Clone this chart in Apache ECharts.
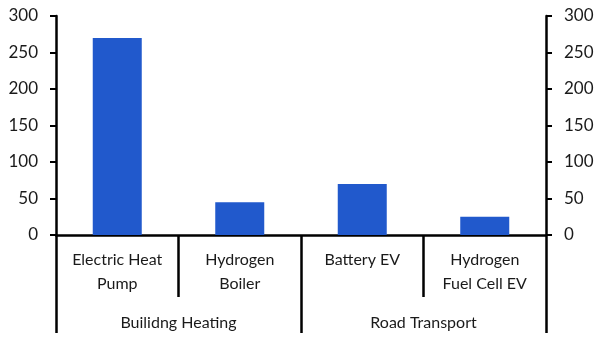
<!DOCTYPE html>
<html>
<head>
<meta charset="utf-8">
<script src="https://cdn.jsdelivr.net/npm/echarts@6/dist/echarts.min.js"></script>
<style>html,body{margin:0;padding:0;background:#fff}#c{width:605px;height:348px}</style>
</head>
<body>
<div id="c"></div>
<script>
const categories = ["Electric Heat\nPump", "Hydrogen\nBoiler", "Battery EV", "Hydrogen\nFuel Cell EV"];
const groups = ["Builidng Heating", "Road Transport"];
const values = [270, 45, 70, 25];
const yTicks = [0, 50, 100, 150, 200, 250, 300];

const FONT = "Lato";
const TXT = "#1a1a1a";
const LINE = "#000";
const chart = echarts.init(document.getElementById('c'), null, {renderer: 'canvas'});

const yAxisBase = (pos) => ({
  type: 'value', position: pos, min: yTicks[0], max: yTicks[yTicks.length - 1], interval: 50,
  axisLine: {show: true, lineStyle: {color: LINE, width: 2.5}},
  axisTick: {show: true, inside: false, length: 6, lineStyle: {color: LINE, width: 2}},
  axisLabel: {margin: 18, color: TXT, fontFamily: FONT, fontSize: 17},
  splitLine: {show: false}
});

chart.setOption({
  animation: false,
  grid: {left: 56, right: 59, top: 16, bottom: 113},
  xAxis: [
    {
      type: 'category', position: 'bottom', offset: 0, data: categories,
      axisLine: {show: true, lineStyle: {color: LINE, width: 2.5}},
      axisTick: {show: true, alignWithLabel: false, interval: 0, length: 62, inside: false, lineStyle: {color: LINE, width: 2.5}},
      axisLabel: {interval: 0, margin: 13, color: TXT, fontFamily: FONT, fontSize: 16, lineHeight: 24}
    },
    {
      type: 'category', position: 'bottom', offset: 0, data: groups,
      axisLine: {show: false},
      axisTick: {show: true, alignWithLabel: false, interval: 0, length: 98, inside: false, lineStyle: {color: LINE, width: 2.5}},
      axisLabel: {interval: 0, margin: 76, color: TXT, fontFamily: FONT, fontSize: 16, lineHeight: 24}
    }
  ],
  yAxis: [yAxisBase('left'), yAxisBase('right')],
  series: [{
    type: 'bar', xAxisIndex: 0, yAxisIndex: 0, data: values,
    barWidth: '40%', itemStyle: {color: '#2159cc'}
  }]
});
</script>
</body>
</html>
